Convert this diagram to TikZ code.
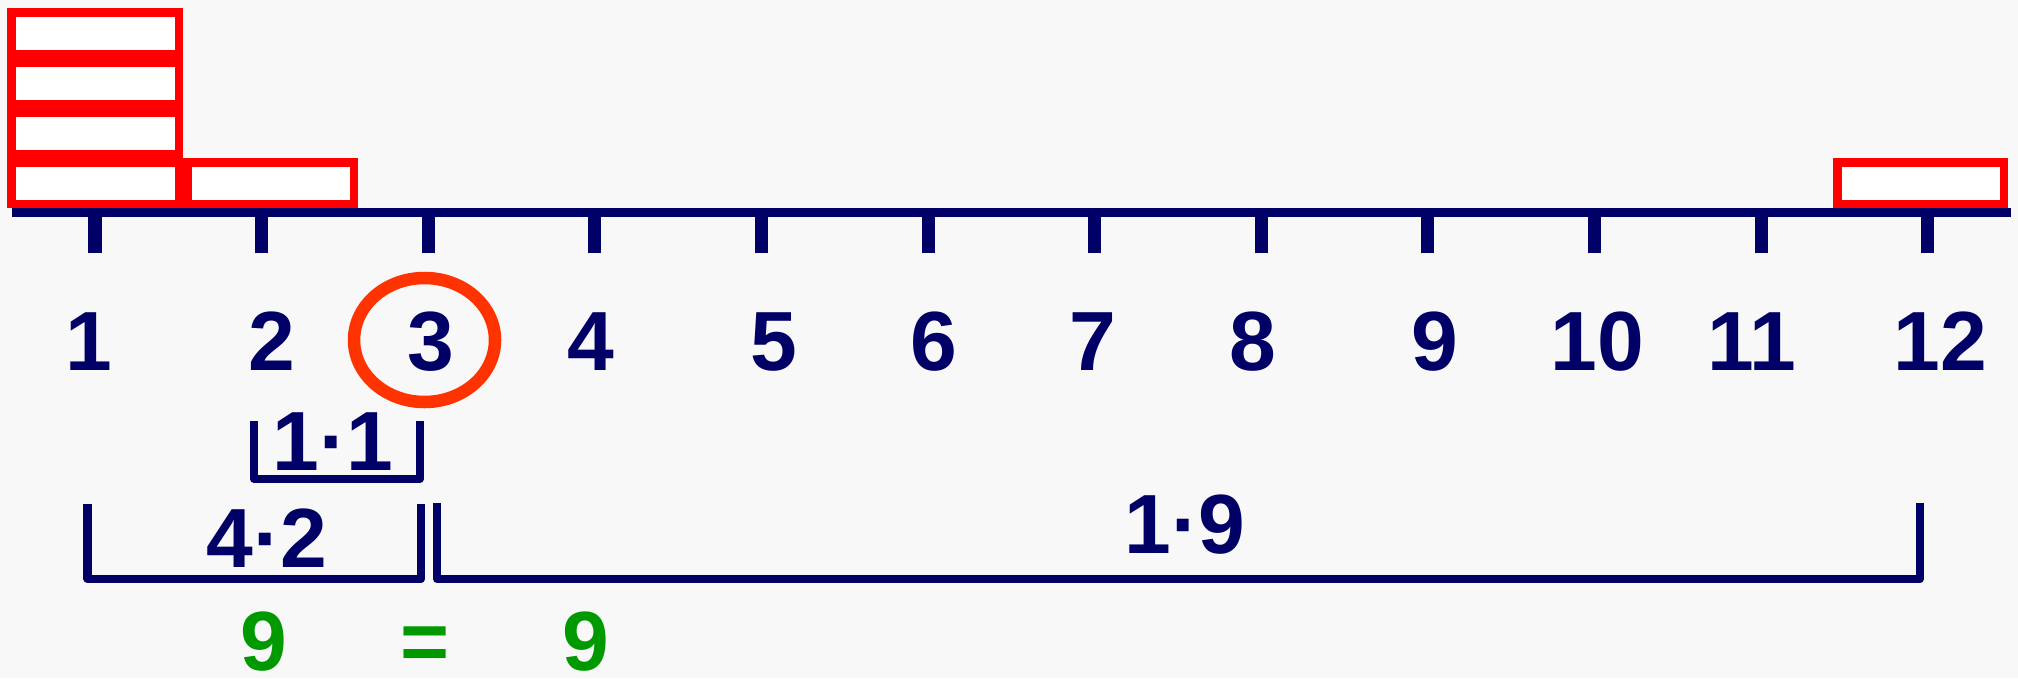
\documentclass[tikz,border=0pt]{standalone}
\usepackage{fontspec}
\setmainfont{Liberation Sans}
\usetikzlibrary{positioning}
\definecolor{navy}{HTML}{000066}
\definecolor{brickred}{HTML}{FF0000}
\definecolor{ringred}{HTML}{FF3300}
\definecolor{sumgreen}{HTML}{009900}
\definecolor{paper}{HTML}{F8F8F8}

\begin{document}
\begin{tikzpicture}[x=1cm,y=-1cm,
  brick/.style={draw=brickred,fill=white,line width=2.42pt},
  num/.style={anchor=base,inner sep=0pt,text=navy,font=\fontsize{23.9}{28}\selectfont\bfseries},
  bracket/.style={draw=navy,line width=2.28pt,line join=round}]
\fill[paper] (0,0) rectangle (20.18,6.78);
\useasboundingbox (0,0) rectangle (20.18,6.78);
% bricks on the line
\foreach \k in {0,...,3}
  \draw[brick] (0.1125,{1.6225-0.5*\k}) rectangle (1.7875,{2.0375-0.5*\k});
\draw[brick] (1.8725,1.6225) rectangle (3.5375,2.0375);
\draw[brick] (18.3725,1.6225) rectangle (20.0375,2.0375);
% number line and ticks
\draw[navy,line width=2.56pt] (0.12,2.12) -- (20.11,2.12);
\foreach \n in {1,...,12}
  \draw[navy,line width=3.7pt] ({0.95+1.666*(\n-1)},2.12) -- ++(0,0.41);
\foreach \n/\x in {1/0.89,2/2.72,3/4.31,4/5.91,5/7.74,6/9.34,7/10.93,8/12.53,9/14.35,10/15.97,11/17.52,12/19.40}
  \node[num] (n\n) at (\x,3.70) {\n};
\draw[ringred,line width=3.56pt] (4.245,3.40) ellipse [x radius=0.705,y radius=0.62];
% brackets
\draw[bracket] (2.54,4.21) |- (4.20,4.79) -- (4.20,4.21);
\node[num] (p11) at (3.33,4.70) {1·1};
\draw[bracket] (0.875,5.04) |- (4.21,5.79) -- (4.21,5.04);
\node[num] (p42) at (2.67,5.67) {4·2};
\draw[bracket] (4.37,5.03) |- (19.20,5.79) -- (19.20,5.03);
\node[num] (p19) at (11.85,5.53) {1·9};
% sums
\node[num,text=sumgreen] (s1) at (2.64,6.70) {9};
\node[num,text=sumgreen] (eq) at (4.25,6.70) {=};
\node[num,text=sumgreen] (s2) at (5.86,6.70) {9};
\end{tikzpicture}
\end{document}
